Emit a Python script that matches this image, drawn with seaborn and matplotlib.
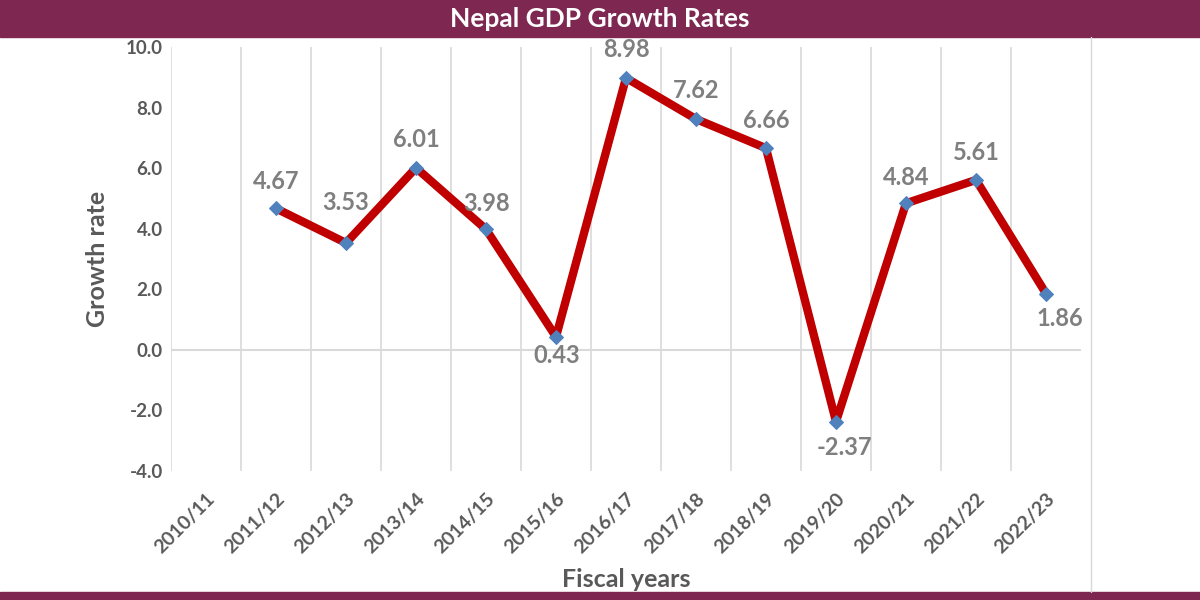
import matplotlib
matplotlib.use("Agg")
import matplotlib.pyplot as plt
import seaborn as sns
import numpy as np
import pandas as pd

years = ["2010/11", "2011/12", "2012/13", "2013/14", "2014/15", "2015/16", "2016/17",
         "2017/18", "2018/19", "2019/20", "2020/21", "2021/22", "2022/23"]
growth = [np.nan, 4.67, 3.53, 6.01, 3.98, 0.43, 8.98, 7.62, 6.66, -2.37, 4.84, 5.61, 1.86]
# label offsets in pixels (dx, dy) relative to each point
label_dx = [0, 0, 0, 0, 1, 1, 0, 0, 0, 8, 0, 0, 14]
label_dy = [0, 27, 40, 28, 26, -19, 28, 29, 28, -26, 26, 27, -25]
yticks = [-4.0, -2.0, 0.0, 2.0, 4.0, 6.0, 8.0, 10.0]

sns.set_theme(style="white")
plt.rcParams['font.family'] = ['Lato', 'DejaVu Sans']

maroon = "#7E2750"
tick_gray = "#595959"
label_gray = "#7F7F7F"
grid_gray = "#D9D9D9"

df = pd.DataFrame({"pos": np.arange(len(years)), "growth": growth})

fig = plt.figure(figsize=(12, 6), dpi=100)
ax = fig.add_axes([171/1200, 1-471/600, (1081-171)/1200, (471-47)/600])

sns.lineplot(data=df.dropna(), x="pos", y="growth", ax=ax, color="#C00000", linewidth=6,
             marker="D", markersize=7, markerfacecolor="#4F81BD", markeredgecolor="#4F81BD",
             zorder=3)

ax.set_xlim(-0.5, len(years) - 0.5)
ax.set_ylim(-4, 10)
ax.set_yticks(yticks)
ax.set_yticklabels([f"{v:.1f}" for v in yticks], fontsize=13.5, fontweight="bold", color=tick_gray)
ax.set_xticks(np.arange(len(years)))
ax.set_xticklabels(years, rotation=45, ha="right", rotation_mode="anchor",
                   fontsize=14, fontweight="bold", color=tick_gray)
ax.tick_params(axis="x", pad=14, length=0)
ax.tick_params(axis="y", pad=6, length=0)

for b in np.arange(-0.5, len(years) - 1, 1):
    ax.axvline(b, color=grid_gray, linewidth=1.2, zorder=1)
ax.axhline(0, color=grid_gray, linewidth=1.5, zorder=1)
for s in ax.spines.values():
    s.set_visible(False)

for i, v in enumerate(growth):
    if np.isnan(v):
        continue
    ax.annotate(f"{v:.2f}", (i, v), xytext=(label_dx[i], label_dy[i]), textcoords="offset pixels",
                ha="center", va="center", fontsize=17, fontweight="bold", color=label_gray)

ax.set_xlabel("Fiscal years", fontsize=18, fontweight="bold", color=tick_gray, labelpad=8)
ax.set_ylabel("Growth rate", fontsize=18, fontweight="bold", color=tick_gray, labelpad=12)

# title bar and bottom strip
fig.patches.append(plt.Rectangle((0, 1-37/600), 1, 37/600, transform=fig.transFigure,
                                 color=maroon, zorder=0))
fig.patches.append(plt.Rectangle((0, 0), 1, 8/600, transform=fig.transFigure,
                                 color=maroon, zorder=0))
fig.text(0.5, 1-19/600, "Nepal GDP Growth Rates", ha="center", va="center",
         color="white", fontsize=19, fontweight="bold")
fig.add_artist(plt.Line2D([1091/1200, 1091/1200], [8/600, 1-37/600], transform=fig.transFigure,
                          color=grid_gray, linewidth=1))

fig.savefig("out.png", dpi=100)
